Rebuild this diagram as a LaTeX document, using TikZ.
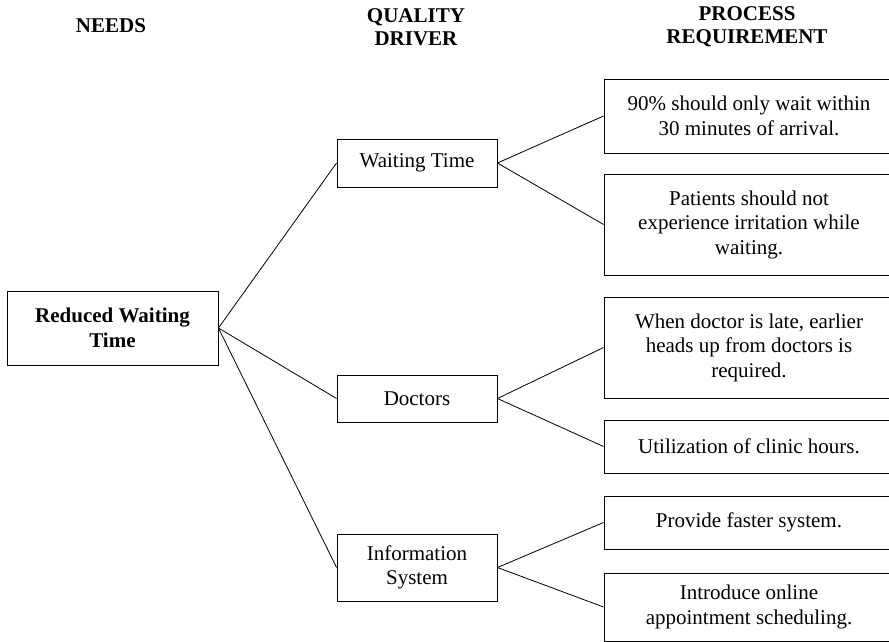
\documentclass[tikz,border=0pt]{standalone}
\usepackage{fontspec}
\setmainfont{Liberation Serif}
\usetikzlibrary{positioning}

\begin{document}
\begin{tikzpicture}[x=1pt, y=-1pt,
    font=\fontsize{21}{24.5}\selectfont,
    box/.style={draw, line width=0.9pt, align=center, inner sep=0pt},
    drvbox/.style={box, minimum width=160pt},
    reqbox/.style={box, minimum width=290pt},
    head/.style={align=center, font=\fontsize{21}{23.5}\selectfont\bfseries},
    link/.style={line width=0.8pt}]
    \useasboundingbox (0,0) rectangle (889,642);

    % column headings
    \node[head] (hneeds) at (111,26) {NEEDS};
    \node[head] (hdriver) at (416,27) {QUALITY\\DRIVER};
    \node[head] (hreq) at (747,27) {PROCESS\\REQUIREMENT};

    % need
    \node[box, minimum width=211pt, minimum height=74pt, font=\fontsize{21}{24.5}\selectfont\bfseries]
        (need) at (112.5,328) {Reduced Waiting\\Time};

    % quality drivers
    \node[drvbox, minimum height=48pt] (wait) at (417,163) {Waiting Time};
    \node[drvbox, minimum height=47pt] (doc) at (417,398.5) {Doctors};
    \node[drvbox, minimum height=67pt] (info) at (417,567.5) {Information\\System};

    % process requirements
    \node[reqbox, minimum height=74pt] (req1) at (749,116) {90\% should only wait within\\30 minutes of arrival.};
    \node[reqbox, minimum height=101pt] (req2) at (749,224.5) {Patients should not\\experience irritation while\\waiting.};
    \node[reqbox, minimum height=101pt] (req3) at (749,347.5) {When doctor is late, earlier\\heads up from doctors is\\required.};
    \node[reqbox, minimum height=53pt] (req4) at (749,446.5) {Utilization of clinic hours.};
    \node[reqbox, minimum height=53pt] (req5) at (749,522.5) {Provide faster system.};
    \node[reqbox, minimum height=68pt] (req6) at (749,607) {Introduce online\\appointment scheduling.};

    % connectors
    \draw[link] (need.east) -- (wait.west);
    \draw[link] (need.east) -- (doc.west);
    \draw[link] (need.east) -- (info.west);
    \draw[link] (wait.east) -- (req1.west);
    \draw[link] (wait.east) -- (req2.west);
    \draw[link] (doc.east) -- (req3.west);
    \draw[link] (doc.east) -- (req4.west);
    \draw[link] (info.east) -- (req5.west);
    \draw[link] (info.east) -- (req6.west);
\end{tikzpicture}
\end{document}
